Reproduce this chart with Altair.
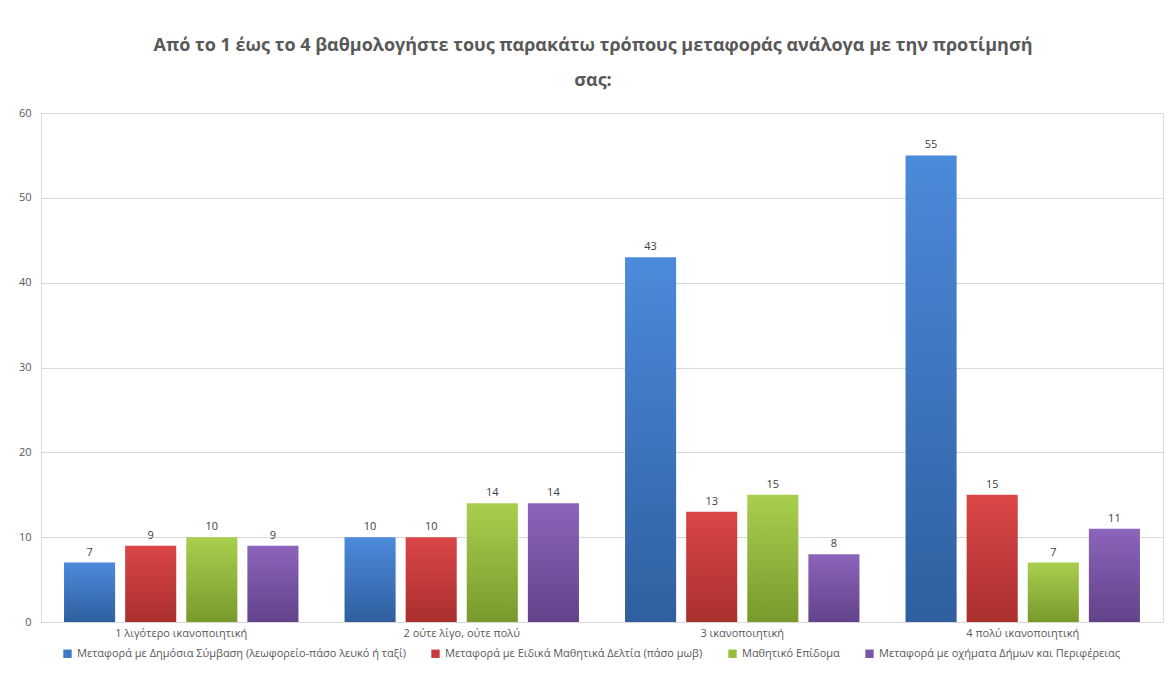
import altair as alt
import pandas as pd

categories = ["1 λιγότερο ικανοποιητική", "2 ούτε λίγο, ούτε πολύ", "3 ικανοποιητική", "4 πολύ ικανοποιητική"]
series = [
    "Μεταφορά με Δημόσια Σύμβαση (λεωφορείο-πάσο λευκό ή ταξί)",
    "Μεταφορά με Ειδικά Μαθητικά Δελτία (πάσο μωβ)",
    "Μαθητικό Επίδομα",
    "Μεταφορά με οχήματα Δήμων και Περιφέρειας",
]
values = {
    series[0]: [7, 10, 43, 55],
    series[1]: [9, 10, 13, 15],
    series[2]: [10, 14, 15, 7],
    series[3]: [9, 14, 8, 11],
}
colors = ["#3E78C6", "#C93B3B", "#94BE3C", "#7A54A8"]
grad_stops = [
    ("#4C8ADB", "#2F5F9F"),
    ("#DB4646", "#A92F2F"),
    ("#A9CF4E", "#789A2C"),
    ("#8C64BB", "#62438A"),
]
title_lines = ["Από το 1 έως το 4 βαθμολογήστε τους παρακάτω τρόπους μεταφοράς ανάλογα με την προτίμησή", "σας:"]

rows = []
for s in series:
    for c, v in zip(categories, values[s]):
        rows.append({"category": c, "series": s, "value": v})
df = pd.DataFrame(rows)

conds = []
for s, (top, bot) in zip(series, grad_stops):
    conds.append({
        "test": f"datum.series === '{s}'",
        "value": {
            "gradient": "linear", "x1": 0, "x2": 0, "y1": 0, "y2": 1,
            "stops": [{"offset": 0, "color": top}, {"offset": 1, "color": bot}],
        },
    })

font = "Open Sans"
x_enc = alt.X("category:N", sort=categories, title=None,
              scale=alt.Scale(paddingInner=0, paddingOuter=0),
              axis=alt.Axis(labelAngle=0, labelFont=font, labelFontSize=11, labelColor="#595959",
                            ticks=False, domainColor="#D9D9D9", domainWidth=1, labelPadding=5))
xo = alt.XOffset("series:N", sort=series, scale=alt.Scale(paddingInner=0.164, paddingOuter=0.377))
y_enc = alt.Y("value:Q", title=None,
              scale=alt.Scale(domain=[0, 60]),
              axis=alt.Axis(values=[0, 10, 20, 30, 40, 50, 60], labelFont=font, labelFontSize=11,
                            labelColor="#595959", ticks=False, domain=False, gridColor="#D9D9D9",
                            labelPadding=10))

color_def = {
    "field": "series", "type": "nominal", "sort": series,
    "scale": {"domain": series, "range": colors},
    "legend": {"orient": "none", "legendX": 21, "legendY": 535, "direction": "horizontal",
               "columns": 4, "title": None, "symbolType": "square", "symbolSize": 70,
               "labelFont": font, "labelFontSize": 11, "labelColor": "#595959", "labelLimit": 0,
               "columnPadding": 24, "labelOffset": 4, "symbolStrokeWidth": 0},
    "condition": conds,
}

base = alt.Chart(df).encode(x=x_enc, xOffset=xo, y=y_enc)
bars = base.mark_bar().encode(color=color_def)
labels = base.mark_text(dy=-10, font=font, fontSize=11, fill="#404040").encode(text="value:Q")

chart = (bars + labels).properties(
    width=1122, height=509,
    title=alt.TitleParams(title_lines, font=font, fontSize=18, fontWeight="bold", color="#595959",
                          anchor="middle", lineHeight=35, offset=17, dx=-9),
    autosize=alt.AutoSizeParams(type="none"),
    padding={"left": 41, "top": 113, "right": 11, "bottom": 75},
).configure_view(stroke=None).configure(background="white")

chart.save("out.html", embed_options={"renderer": "svg", "actions": False})
